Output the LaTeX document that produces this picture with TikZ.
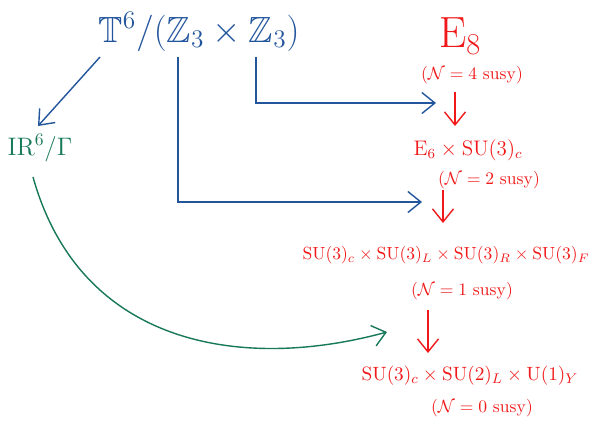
\documentclass[tikz,border=0pt]{standalone}
\usepackage{amsmath,amssymb}
\usepackage{xcolor}
\definecolor{OrbBlue}{HTML}{22559C}
\definecolor{OrbRed}{HTML}{F01818}
\definecolor{OrbGreen}{HTML}{17785A}
\usetikzlibrary{positioning,arrows.meta,calc}
\tikzset{
  gauge/.style={text=OrbRed,inner sep=1pt,font=\normalsize},
  susy/.style={text=OrbRed,inner sep=1pt,font=\normalsize},
  redflow/.style={-{Straight Barb[length=2.6mm,width=4.2mm]},draw=OrbRed,thick},
  blueflow/.style={-{Straight Barb[length=2.6mm,width=4.2mm]},draw=OrbBlue,thick},
  greenflow/.style={-{Straight Barb[length=2.6mm,width=4.2mm]},draw=OrbGreen,thick}
}

\begin{document}
\begin{tikzpicture}[x=0.02cm,y=-0.02cm]
  \useasboundingbox (0,0) rectangle (597,423);
  % orbifold and its torus
  \node[text=OrbBlue,font=\huge] (torus) at (199,32) {$\mathbb{T}^6/(\mathbb{Z}_3\times\mathbb{Z}_3)$};
  \node[text=OrbGreen,font=\Large] (flat) at (40,148) {$\mathrm{IR}^6/\Gamma$};
  % breaking chain
  \node[text=OrbRed,font=\fontsize{27}{30}\selectfont] (eeight) at (460,36) {$\mathrm{E}_8$};
  \node[susy] (nfour) at (472,75) {$(\mathcal{N}=4\ \mathrm{susy})$};
  \node[gauge,font=\large] (esix) at (468,150) {$\mathrm{E}_6\times \mathrm{SU}(3)_c$};
  \node[susy] (ntwo) at (489,180) {$(\mathcal{N}=2\ \mathrm{susy})$};
  \node[gauge] (pati) at (446,255) {$\mathrm{SU}(3)_c\times \mathrm{SU}(3)_L\times \mathrm{SU}(3)_R\times \mathrm{SU}(3)_F$};
  \node[susy] (none) at (462,291) {$(\mathcal{N}=1\ \mathrm{susy})$};
  \node[gauge,font=\fontsize{11}{13}\selectfont] (sm) at (470,376) {$\mathrm{SU}(3)_c\times \mathrm{SU}(2)_L\times \mathrm{U}(1)_Y$};
  \node[susy] (nzero) at (482,408) {$(\mathcal{N}=0\ \mathrm{susy})$};
  % where the lines start and stop
  \coordinate (zone) at (178,57);
  \coordinate (ztwo) at (256,57);
  \coordinate (tcorner) at (100,57);
  \coordinate (tip) at (38,126);
  \coordinate (tail) at (33,177);
  \coordinate (hitone) at (436,103);
  \coordinate (hittwo) at (422,202);
  \coordinate (hitthree) at (387,332);
  \draw[redflow] (455,92) -- (455,126);
  \draw[redflow] (443,190) -- (443,223);
  \draw[redflow] (428,310) -- (428,353);
  \draw[blueflow] (ztwo) |- (hitone);
  \draw[blueflow] (zone) |- (hittwo);
  \draw[blueflow] (tcorner) -- (tip);
  \draw[greenflow] (tail) .. controls (80,345) and (240,372) .. (hitthree);
\end{tikzpicture}
\end{document}
